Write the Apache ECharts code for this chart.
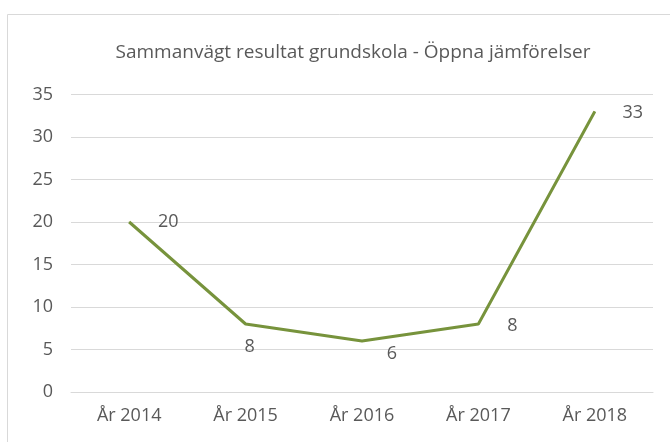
<!DOCTYPE html>
<html>
<head>
<meta charset="utf-8">
<script src="https://cdn.jsdelivr.net/npm/echarts@6/dist/echarts.min.js"></script>
<style>
  html, body { margin: 0; padding: 0; background: #fff; }
  #chart { width: 670px; height: 442px; }
</style>
</head>
<body>
<div id="chart"></div>
<script>
const chartTitle = 'Sammanvägt resultat grundskola - Öppna jämförelser'
const years = ['År 2014', 'År 2015', 'År 2016', 'År 2017', 'År 2018']
const results = [20, 8, 6, 8, 33]

// where each value label sits relative to its point (px)
const labelOffsets = [[39, 0], [4, 23], [30, 13], [34, 2], [38, 1]]

const textColor = '#595959'
const font = '"Open Sans", "Noto Sans", sans-serif'

const chart = echarts.init(document.getElementById('chart'))
chart.setOption({
  animation: false,
  title: {
    text: chartTitle,
    left: 348,
    top: 38,
    textAlign: 'center',
    textStyle: { color: textColor, fontSize: 19, fontWeight: 'normal', fontFamily: font },
  },
  graphic: [
    {
      type: 'rect',
      shape: { x: 7.5, y: 14.5, width: 720, height: 500 },
      style: { fill: 'none', stroke: '#d9d9d9', lineWidth: 1 },
      silent: true,
    },
  ],
  grid: { left: 71, right: 17, top: 94.5, bottom: 50, containLabel: false },
  xAxis: {
    type: 'category',
    data: years,
    boundaryGap: true,
    axisLine: { lineStyle: { color: '#d9d9d9', width: 1 } },
    axisTick: { show: false },
    axisLabel: { color: textColor, fontSize: 18, fontFamily: font, margin: 15 },
  },
  yAxis: {
    type: 'value',
    min: 0,
    max: 35,
    interval: 5,
    axisLine: { show: false },
    axisTick: { show: false },
    splitLine: { lineStyle: { color: '#d9d9d9', width: 1 } },
    axisLabel: { color: textColor, fontSize: 18, fontFamily: font, margin: 18 },
  },
  series: [
    {
      type: 'line',
      data: results.map((v, i) => ({
        value: v,
        label: { offset: labelOffsets[i] },
      })),
      symbol: 'circle',
      symbolSize: 1,
      itemStyle: { color: '#77933c' },
      lineStyle: { color: '#77933c', width: 3 },
      label: {
        show: true,
        position: 'inside',
        align: 'center',
        verticalAlign: 'middle',
        color: textColor,
        fontSize: 18,
        fontFamily: font,
      },
    },
  ],
})
</script>
</body>
</html>
